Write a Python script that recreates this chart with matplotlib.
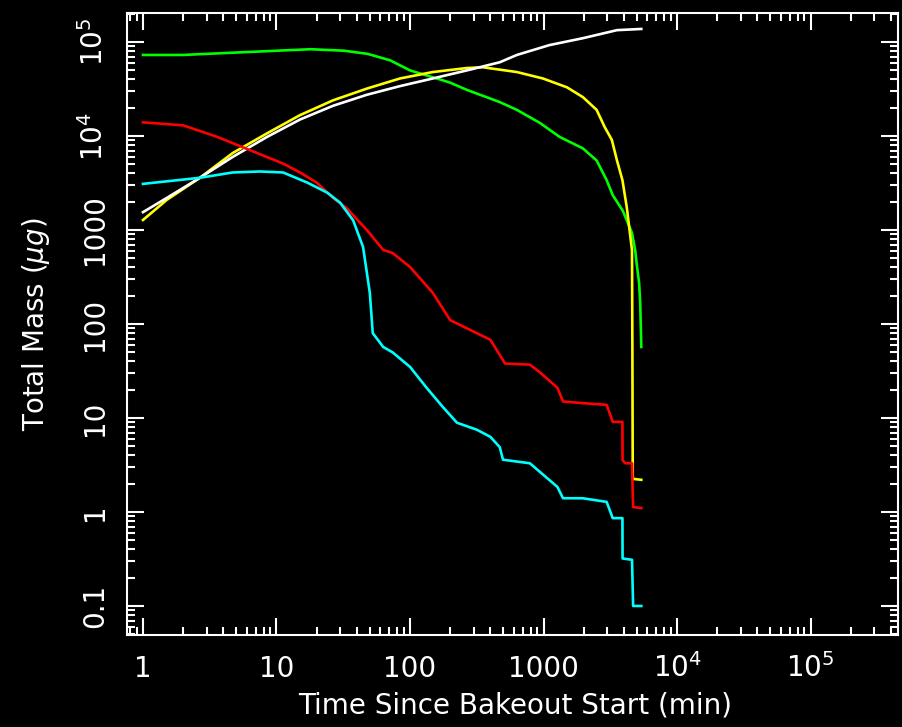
import numpy as np
import matplotlib
matplotlib.use('Agg')
import matplotlib.pyplot as plt
from matplotlib.ticker import LogLocator, NullFormatter

plt.rcParams['mathtext.default'] = 'regular'

# time since bakeout start (min) and total mass (ug)
green_t = [1, 2, 5.6, 18, 32, 48, 71, 100, 168, 200, 267, 470, 632, 940, 1320,
           1970, 2500, 2970, 3300, 3930, 4600, 4860, 5020, 5200, 5300, 5400]
green_m = [7.3e4, 7.3e4, 7.8e4, 8.4e4, 8.1e4, 7.5e4, 6.4e4, 5.0e4, 4.0e4, 3.7e4,
           3.1e4, 2.3e4, 1.9e4, 1.38e4, 9.8e3, 7.4e3, 5.5e3, 3.4e3, 2.35e3,
           1.6e3, 930, 610, 405, 274, 167, 57]

yellow_t = [1, 1.51, 2.67, 4.7, 8.5, 15, 26.5, 47.5, 84, 148, 267, 350, 632,
            990, 1500, 1970, 2500, 2870, 3250, 3550, 3900, 4200, 4600, 4630,
            4660, 4700, 5400]
yellow_m = [1280, 2100, 3600, 6600, 1.07e4, 1.67e4, 2.4e4, 3.2e4, 4.1e4, 4.8e4,
            5.3e4, 5.4e4, 4.8e4, 4.1e4, 3.3e4, 2.6e4, 1.9e4, 1.25e4, 9.1e3,
            5.5e3, 3.4e3, 1.76e3, 610, 60, 2.4, 2.25, 2.2]

white_t = [1, 1.51, 2.67, 4.7, 8.5, 15, 26.5, 47.5, 84, 148, 267, 470, 632,
           1110, 1970, 3550, 5400]
white_m = [1550, 2200, 3600, 6000, 9800, 1.5e4, 2.1e4, 2.75e4, 3.4e4, 4.1e4,
           5.0e4, 6.1e4, 7.3e4, 9.3e4, 1.1e5, 1.34e5, 1.38e5]

red_t = [1, 2, 3.6, 6.3, 11.2, 15, 20, 26.5, 33.7, 47.5, 63, 74, 100, 148, 200,
         280, 400, 515, 790, 930, 1270, 1400, 1970, 2970, 3300, 3900, 3910,
         4100, 4600, 4690, 5400]
red_m = [1.4e4, 1.3e4, 9.8e3, 7.1e3, 5.1e3, 4.1e3, 3.2e3, 2.2e3, 1.7e3, 1.0e3,
         615, 570, 405, 215, 110, 87, 68, 38, 37, 31, 21, 15, 14.4, 13.8, 9.1,
         9.1, 3.57, 3.3, 3.3, 1.13, 1.1]

cyan_t = [1, 2.67, 4.7, 7.5, 11.2, 17, 24, 30, 37.5, 44.5, 50, 52.6, 63, 74,
          100, 133, 177, 225, 317, 400, 470, 497, 790, 1270, 1400, 1970,
          2970, 3300, 3900, 3910, 4600, 4690, 5400]
cyan_m = [3100, 3600, 4100, 4200, 4100, 3200, 2500, 1950, 1270, 660, 215, 80,
          57, 50, 35, 21, 13, 8.9, 7.5, 6.3, 4.9, 3.6, 3.3, 1.85, 1.4, 1.4,
          1.28, 0.86, 0.86, 0.32, 0.31, 0.10, 0.10]

series = [(green_t, green_m, '#00ff00'),
          (yellow_t, yellow_m, '#ffff00'),
          (white_t, white_m, '#ffffff'),
          (red_t, red_m, '#ff0000'),
          (cyan_t, cyan_m, '#00ffff')]

x_ticks = [1, 10, 100, 1000, 1e4, 1e5]
x_labels = ['1', '10', '100', '1000', '$10^{4}$', '$10^{5}$']
y_ticks = [0.1, 1, 10, 100, 1000, 1e4, 1e5]
y_labels = ['0.1', '1', '10', '100', '1000', '$10^{4}$', '$10^{5}$']

fig = plt.figure(figsize=(9.02, 7.27), dpi=100, facecolor='black')
ax = fig.add_axes([127/902, 1-635/727, 771/902, 622/727], facecolor='black')

for t, m, c in series:
    ax.plot(t, m, color=c, lw=1.9)

ax.set_xscale('log')
ax.set_yscale('log')
ax.set_xlim(0.759, 4.52e5)
ax.set_ylim(0.0491, 2.04e5)

ax.set_xticks(x_ticks, labels=x_labels)
ax.set_yticks(y_ticks, labels=y_labels)
ax.xaxis.set_minor_locator(LogLocator(base=10, subs=np.arange(2, 10), numticks=50))
ax.yaxis.set_minor_locator(LogLocator(base=10, subs=np.arange(2, 10), numticks=50))
ax.xaxis.set_minor_formatter(NullFormatter())
ax.yaxis.set_minor_formatter(NullFormatter())

for s in ax.spines.values():
    s.set_color('white')
    s.set_linewidth(1.5)

ax.tick_params(which='both', direction='in', colors='white', width=1.5,
               top=True, right=True, labelsize=20)
ax.tick_params(which='major', length=12)
ax.tick_params(which='minor', length=6)
ax.tick_params(axis='x', pad=30)
ax.tick_params(axis='y', pad=13)
for lab in ax.get_xticklabels():
    lab.set_va('baseline')
for lab in ax.get_yticklabels():
    lab.set_rotation(90)
    lab.set_va('center')

ax.set_xlabel('Time Since Bakeout Start (min)', color='white', fontsize=20)
ax.set_ylabel(r'Total Mass ($\mathit{\mu g}$)', color='white', fontsize=20)
ax.xaxis.set_label_coords(0.503, -0.0916)
ax.yaxis.set_label_coords(-0.097, 0.5)

fig.savefig('out.png', dpi=100, facecolor='black')
